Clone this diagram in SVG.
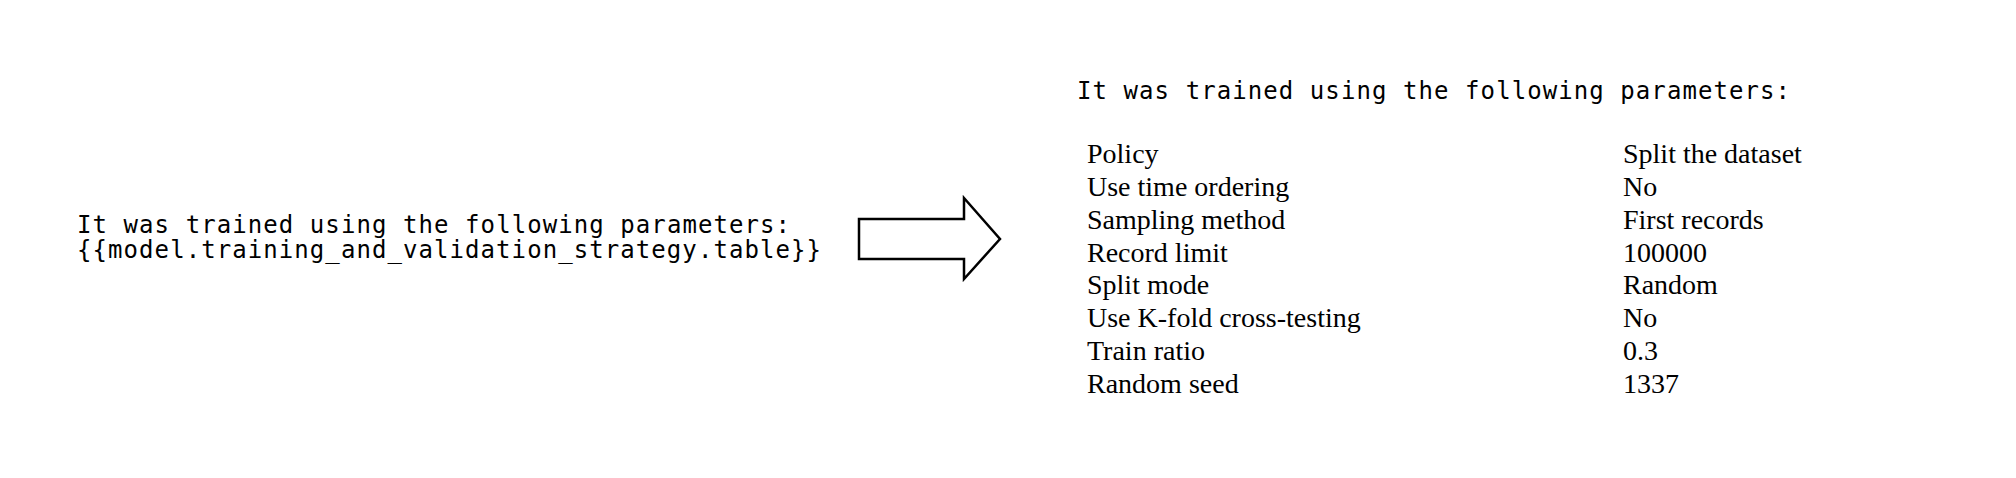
<svg xmlns="http://www.w3.org/2000/svg" width="2016" height="478" viewBox="0 0 2016 478">
<style>
.mono{font-family:"DejaVu Sans Mono","Liberation Mono",monospace;font-size:24px;fill:#000}
.serif{font-family:"Liberation Serif","Times New Roman",serif;font-size:28px;fill:#000}
.arrow{fill:#fff;stroke:#000;stroke-width:2.5;stroke-linejoin:miter}
</style>
<rect width="2016" height="478" fill="#fff"/>
<g id="template">
<text class="mono" x="77" y="232.5" textLength="713" lengthAdjust="spacing">It was trained using the following parameters:</text>
<text class="mono" x="77" y="258" textLength="744" lengthAdjust="spacing">{{model.training_and_validation_strategy.table}}</text>
</g>
<g id="connectors">
<polygon class="arrow" points="859,219 964,219 964,198 1000,239 964,279 964,259 859,259"/>
</g>
<g id="result">
<text class="mono" x="1077" y="99" textLength="713" lengthAdjust="spacing">It was trained using the following parameters:</text>
<g id="table">
<text class="serif" x="1087" y="163">Policy</text>
<text class="serif" x="1623" y="163">Split the dataset</text>
<text class="serif" x="1087" y="196">Use time ordering</text>
<text class="serif" x="1623" y="196">No</text>
<text class="serif" x="1087" y="228.5">Sampling method</text>
<text class="serif" x="1623" y="228.5">First records</text>
<text class="serif" x="1087" y="261.5">Record limit</text>
<text class="serif" x="1623" y="261.5">100000</text>
<text class="serif" x="1087" y="294">Split mode</text>
<text class="serif" x="1623" y="294">Random</text>
<text class="serif" x="1087" y="327">Use K-fold cross-testing</text>
<text class="serif" x="1623" y="327">No</text>
<text class="serif" x="1087" y="359.5">Train ratio</text>
<text class="serif" x="1623" y="359.5">0.3</text>
<text class="serif" x="1087" y="392.5">Random seed</text>
<text class="serif" x="1623" y="392.5">1337</text>
</g>
</g>
</svg>
